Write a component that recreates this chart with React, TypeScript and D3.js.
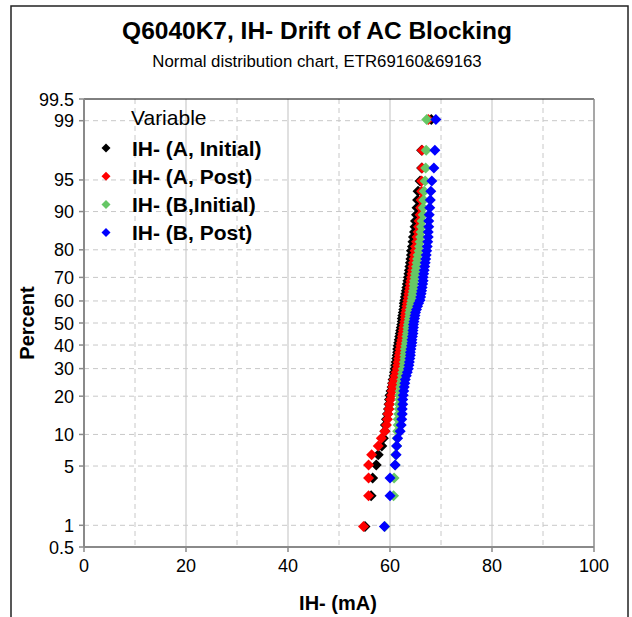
import * as d3 from "d3";

// ─── Data (IH- in mA, sorted per series) ─────────────────────────────────────
const aInitial = [
  55.1, 56.3, 56.6, 57.3, 57.7, 58.4, 58.7, 59.0, 59.1, 59.3, 59.5, 59.7,
  59.8, 59.9, 60.0, 60.2, 60.4, 60.5, 60.6, 60.8, 60.9, 61.0, 61.1, 61.2,
  61.3, 61.4, 61.5, 61.5, 61.6, 61.7, 61.8, 61.9, 62.0, 62.1, 62.2, 62.3,
  62.4, 62.4, 62.5, 62.6, 62.7, 62.8, 62.8, 62.9, 63.0, 63.1, 63.2, 63.3,
  63.4, 63.5, 63.6, 63.7, 63.8, 63.9, 64.0, 64.1, 64.2, 64.2, 64.4, 64.5,
  64.6, 64.8, 64.9, 65.0, 65.2, 65.3, 65.4, 65.5, 65.9, 66.2, 66.2, 68.1,
];
const aPost = [
  54.8, 55.8, 55.8, 55.8, 56.4, 57.7, 58.3, 59.0, 59.3, 59.5, 59.6, 59.8,
  59.9, 60.1, 60.3, 60.4, 60.5, 60.6, 60.8, 61.0, 61.2, 61.4, 61.5, 61.6,
  61.7, 61.8, 61.9, 62.0, 62.1, 62.2, 62.3, 62.4, 62.5, 62.6, 62.7, 62.8,
  62.9, 63.0, 63.0, 63.1, 63.2, 63.3, 63.4, 63.5, 63.6, 63.7, 63.8, 63.9,
  64.0, 64.1, 64.2, 64.3, 64.4, 64.5, 64.6, 64.7, 64.8, 64.9, 65.0, 65.2,
  65.3, 65.5, 65.6, 65.7, 65.9, 66.0, 66.1, 66.2, 66.2, 66.3, 66.3, 67.5,
];
const bInitial = [
  59.0, 60.7, 60.8, 61.0, 61.1, 61.3, 61.4, 61.5, 61.6, 61.6, 61.7, 61.8,
  61.8, 61.9, 61.9, 62.0, 62.1, 62.2, 62.3, 62.4, 62.5, 62.6, 62.8, 62.8,
  62.9, 62.9, 63.0, 63.0, 63.1, 63.2, 63.3, 63.3, 63.4, 63.5, 63.5, 63.6,
  63.7, 63.8, 63.9, 63.9, 64.0, 64.1, 64.2, 64.3, 64.4, 64.5, 64.6, 64.7,
  64.7, 64.8, 64.9, 65.0, 65.1, 65.2, 65.3, 65.4, 65.5, 65.7, 65.8, 65.9,
  66.0, 66.1, 66.2, 66.3, 66.5, 66.5, 66.6, 66.7, 66.9, 67.0, 67.1, 67.2,
];
const bPost = [
  58.9, 60.0, 60.0, 61.0, 61.2, 61.3, 61.5, 62.0, 62.2, 62.3, 62.4, 62.4,
  62.5, 62.5, 62.6, 62.7, 62.8, 62.9, 63.0, 63.2, 63.4, 63.6, 63.7, 63.8,
  63.9, 64.0, 64.0, 64.1, 64.2, 64.3, 64.3, 64.4, 64.5, 64.5, 64.6, 64.6,
  64.7, 64.8, 64.9, 65.0, 65.2, 65.4, 65.6, 65.9, 66.0, 66.1, 66.2, 66.3,
  66.4, 66.5, 66.5, 66.6, 66.7, 66.8, 66.9, 67.0, 67.1, 67.2, 67.3, 67.4,
  67.5, 67.5, 67.6, 67.6, 67.7, 67.8, 67.9, 68.0, 68.2, 68.6, 68.8, 69.0,
];

const seriesNames = [
  "IH- (A, Initial)",
  "IH- (A, Post)",
  "IH- (B,Initial)",
  "IH- (B, Post)",
];
const seriesValues = [aInitial, aPost, bInitial, bPost];
const seriesColors = ["#000000", "#ff0000", "#66c766", "#0000ff"];

const percentTicks = [0.5, 1, 5, 10, 20, 30, 40, 50, 60, 70, 80, 90, 95, 99, 99.5];
const xTicks = [0, 20, 40, 60, 80, 100];
const xMinorGrid = [10, 30, 50, 70, 90];

// ─── Inverse normal CDF (Acklam) for the probability axis ───────────────────
function probit(p: number): number {
  const a = [-39.69683028665376, 220.9460984245205, -275.9285104469687, 138.357751867269, -30.66479806614716, 2.506628277459239];
  const b = [-54.47609879822406, 161.5858368580409, -155.6989798598866, 66.80131188771972, -13.28068155288572];
  const c = [-0.007784894002430293, -0.3223964580411365, -2.400758277161838, -2.549732539343734, 4.374664141464968, 2.938163982698783];
  const d = [0.007784695709041462, 0.3224671290700398, 2.445134137142996, 3.754408661907416];
  const pl = 0.02425;
  if (p < pl) {
    const q = Math.sqrt(-2 * Math.log(p));
    return (((((c[0] * q + c[1]) * q + c[2]) * q + c[3]) * q + c[4]) * q + c[5]) /
      ((((d[0] * q + d[1]) * q + d[2]) * q + d[3]) * q + 1);
  }
  if (p > 1 - pl) {
    const q = Math.sqrt(-2 * Math.log(1 - p));
    return -(((((c[0] * q + c[1]) * q + c[2]) * q + c[3]) * q + c[4]) * q + c[5]) /
      ((((d[0] * q + d[1]) * q + d[2]) * q + d[3]) * q + 1);
  }
  const q = p - 0.5;
  const r = q * q;
  return (((((a[0] * r + a[1]) * r + a[2]) * r + a[3]) * r + a[4]) * r + a[5]) * q /
    (((((b[0] * r + b[1]) * r + b[2]) * r + b[3]) * r + b[4]) * r + 1);
}

const diamond = (r: number) => `M0,${-r}L${r},0L0,${r}L${-r},0Z`;

export default function App() {
  const width = 632;
  const height = 617;
  const plot = { left: 84, right: 594, top: 99, bottom: 547 };

  const xScale = d3.scaleLinear().domain([0, 100]).range([plot.left, plot.right]);
  const zScale = d3
    .scaleLinear()
    .domain([probit(0.005), probit(0.995)])
    .range([plot.bottom, plot.top]);
  const yPct = (pct: number) => zScale(probit(pct / 100));

  const font = "Liberation Sans, Arial, sans-serif";
  const axisGray = "#8a8a8a";
  const gridGray = "#c8c8c8";

  return (
    <svg
      width={width}
      height={height}
      style={{ position: "absolute", left: 0, top: 0, background: "#fff" }}
      fontFamily={font}
    >
      {/* outer frame */}
      <rect x={11} y={6} width={617} height={640} fill="none" stroke="#222" strokeWidth={1.5} />

      {/* titles */}
      <text x={317} y={39} textAnchor="middle" fontSize={24.5} fontWeight="bold">
        Q6040K7, IH- Drift of AC Blocking
      </text>
      <text x={317} y={67} textAnchor="middle" fontSize={16.8}>
        Normal distribution chart, ETR69160&amp;69163
      </text>

      {/* grid: vertical */}
      {xTicks.slice(1, -1).map((v) => (
        <line key={`vg${v}`} x1={xScale(v)} x2={xScale(v)} y1={plot.top} y2={plot.bottom}
          stroke="#d6d6d6" strokeWidth={1.5} />
      ))}
      {xMinorGrid.map((v) => (
        <line key={`vm${v}`} x1={xScale(v)} x2={xScale(v)} y1={plot.top} y2={plot.bottom}
          stroke={gridGray} strokeWidth={1} strokeDasharray="5 4" />
      ))}
      {/* grid: horizontal */}
      {percentTicks.slice(1, -1).map((p) => (
        <line key={`hg${p}`} x1={plot.left} x2={plot.right} y1={yPct(p)} y2={yPct(p)}
          stroke={gridGray} strokeWidth={1} strokeDasharray="5 4" />
      ))}

      {/* plot border: top & right */}
      <line x1={plot.left} x2={plot.right} y1={plot.top} y2={plot.top} stroke="#000" strokeWidth={1} />
      <line x1={plot.right} x2={plot.right} y1={plot.top} y2={plot.bottom} stroke={axisGray} strokeWidth={1.5} />

      {/* axes */}
      <line x1={plot.left} x2={plot.left} y1={plot.top} y2={plot.bottom} stroke={axisGray} strokeWidth={2} />
      <line x1={plot.left} x2={plot.right} y1={plot.bottom} y2={plot.bottom} stroke={axisGray} strokeWidth={2} />
      {percentTicks.map((p) => (
        <g key={`yt${p}`}>
          <line x1={plot.left - 5} x2={plot.left} y1={yPct(p)} y2={yPct(p)} stroke={axisGray} strokeWidth={1.5} />
          <text x={74} y={yPct(p) + 6.5} textAnchor="end" fontSize={18}>
            {p}
          </text>
        </g>
      ))}
      {xTicks.map((v) => (
        <g key={`xt${v}`}>
          <line x1={xScale(v)} x2={xScale(v)} y1={plot.bottom} y2={plot.bottom + 5} stroke={axisGray} strokeWidth={1.5} />
          <text x={xScale(v)} y={572} textAnchor="middle" fontSize={18}>
            {v}
          </text>
        </g>
      ))}

      {/* axis titles */}
      <text x={338} y={610} textAnchor="middle" fontSize={20} fontWeight="bold">
        IH- (mA)
      </text>
      <text
        transform={`translate(34,${(plot.top + plot.bottom) / 2}) rotate(-90)`}
        textAnchor="middle"
        fontSize={20}
        fontWeight="bold"
      >
        Percent
      </text>

      {/* points */}
      {seriesValues.map((vals, si) => {
        const n = vals.length;
        return (
          <g key={`s${si}`} fill={seriesColors[si]}>
            {vals.map((v, i) => (
              <path
                key={i}
                d={diamond(5.5)}
                transform={`translate(${xScale(v)},${zScale(probit((i + 1 - 0.3) / (n + 0.4)))})`}
              />
            ))}
          </g>
        );
      })}

      {/* legend */}
      <text x={131} y={125} fontSize={21}>
        Variable
      </text>
      {seriesNames.map((name, i) => (
        <g key={`lg${i}`} transform={`translate(0,${148 + i * 28.2})`}>
          <path d={diamond(4.5)} transform="translate(106,0)" fill={seriesColors[i]} />
          <text x={132} y={7.5} fontSize={21} fontWeight="bold">
            {name}
          </text>
        </g>
      ))}
    </svg>
  );
}
